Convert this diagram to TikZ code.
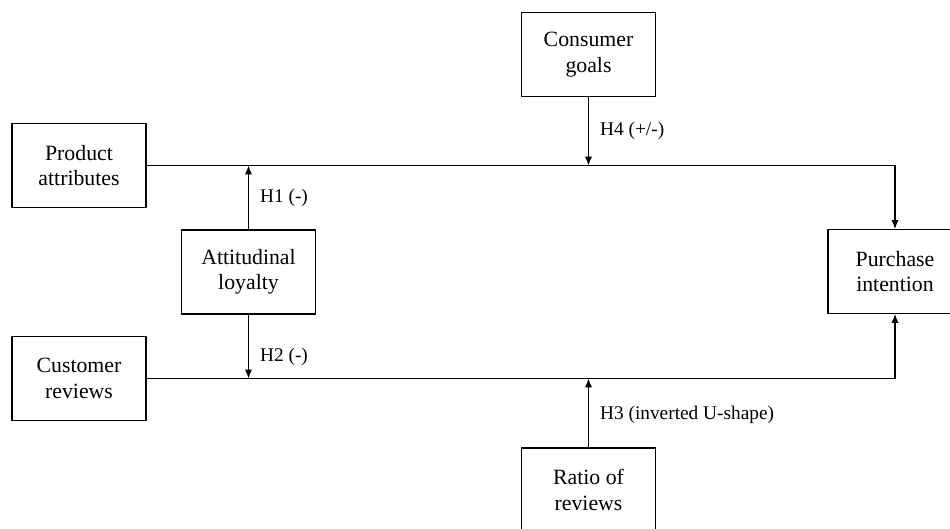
\documentclass[tikz,border=0pt]{standalone}
\usepackage{fontspec}
\setmainfont{Liberation Serif}
\usetikzlibrary{arrows.meta}

\begin{document}
\begin{tikzpicture}[x=0.02cm, y=-0.02cm, line width=0.6pt,
		construct/.style={draw=black, minimum width=2.68cm, minimum height=1.68cm, inner sep=0pt, align=center, font=\fontsize{12.4}{14.5}\selectfont},
		hyp/.style={-{Latex[length=5pt,width=4pt]}},
		hlabel/.style={right, xshift=3pt, font=\fontsize{11}{13}\selectfont}]
			\useasboundingbox (0,0) rectangle (950,528);
			\node[construct] (goals) at (588.5,54.5) {Consumer\\goals};
			\node[construct] (product) at (79,165.5) {Product\\attributes};
			\node[construct] (loyalty) at (248.5,272) {Attitudinal\\loyalty};
			\node[construct] (purchase) at (895,271.5) {Purchase\\intention};
			\node[construct] (customer) at (79,378.5) {Customer\\reviews};
			\node[construct] (ratio) at (588.5,490) {Ratio of\\reviews};
			\coordinate (h1end) at (loyalty.north |- product.east);
			\coordinate (h2end) at (loyalty.south |- customer.east);
			\coordinate (h4end) at (goals.south |- product.east);
			\coordinate (h3end) at (ratio.north |- customer.east);
			\draw[hyp] (product.east) -| (purchase.north);
			\draw[hyp] (customer.east) -| (purchase.south);
			\draw[hyp] (loyalty.north) -- (h1end) node[hlabel, midway]{H1 (-)};
			\draw[hyp] (loyalty.south) -- (h2end) node[hlabel, pos=0.66]{H2 (-)};
			\draw[hyp] (goals.south) -- (h4end) node[hlabel, midway]{H4 (+/-)};
			\draw[hyp] (ratio.north) -- (h3end) node[hlabel, pos=0.48]{H3 (inverted U-shape)};
		\end{tikzpicture}
\end{document}
